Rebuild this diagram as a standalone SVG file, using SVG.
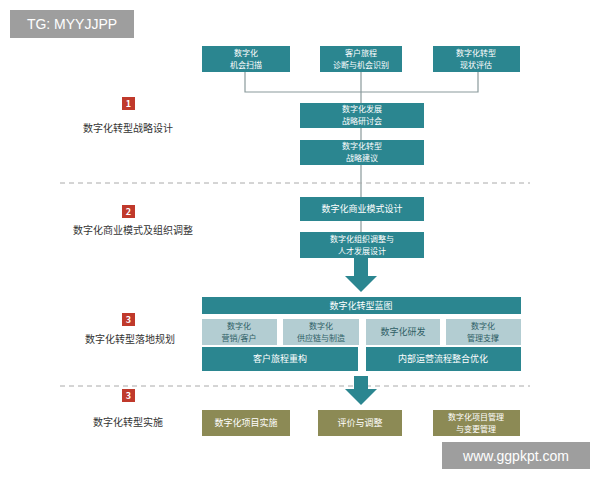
<svg xmlns="http://www.w3.org/2000/svg" width="600" height="480" viewBox="0 0 600 480">
<style>
text{font-family:"Noto Sans CJK SC","Liberation Sans",sans-serif;text-anchor:middle}
.t{fill:#2b8690}.w{fill:#fff;font-size:9px}
.l{fill:#b3cdd2}.d{fill:#2f5f66;font-size:9px}
.s{font-size:8px}
.o{fill:#8c8a55}
.n{fill:#c0392b}.nt{fill:#fff;font-size:9px;font-weight:bold}
.lab{fill:#333;font-size:10px}
.c{stroke:#8a9a9c;stroke-width:1.2;fill:none}
.dash{stroke:#aaa;stroke-width:1;stroke-dasharray:5,4}
</style>
<rect width="600" height="480" fill="#fff"/>
<g id="connectors">
<path class="c" d="M245 72V92H478V72M361 72V103M361 128V140M361 165V197M361 221V232"/>
<line class="dash" x1="60" y1="183" x2="530" y2="183"/>
<line class="dash" x1="60" y1="386" x2="530" y2="386"/>
<path fill="#2b8690" d="M354 258h14v18h9l-16 16-16-16h9z"/>
<path fill="#2b8690" d="M354 376h14v13h9l-16 16-16-16h9z"/>
</g>
<g id="n1"><rect class="t" x="202" y="46" width="88" height="26"/><text class="w s" x="246" y="56">数字化</text><text class="w s" x="246" y="68">机会扫描</text></g>
<g id="n2"><rect class="t" x="320" y="46" width="82" height="26"/><text class="w s" x="361" y="56">客户旅程</text><text class="w s" x="361" y="68">诊断与机会识别</text></g>
<g id="n3"><rect class="t" x="433" y="46" width="87" height="26"/><text class="w s" x="476" y="56">数字化转型</text><text class="w s" x="476" y="68">现状评估</text></g>
<g id="n4"><rect class="t" x="300" y="103" width="124" height="25"/><text class="w s" x="362" y="112">数字化发展</text><text class="w s" x="362" y="124">战略研讨会</text></g>
<g id="n5"><rect class="t" x="300" y="140" width="124" height="25"/><text class="w s" x="362" y="149">数字化转型</text><text class="w s" x="362" y="161">战略建议</text></g>
<g id="n6"><rect class="t" x="300" y="197" width="124" height="24"/><text class="w" x="362" y="212">数字化商业模式设计</text></g>
<g id="n7"><rect class="t" x="300" y="232" width="124" height="26"/><text class="w s" x="362" y="242">数字化组织调整与</text><text class="w s" x="362" y="254">人才发展设计</text></g>
<g id="n8"><rect class="t" x="202" y="297" width="319" height="17"/><text class="w" x="361" y="309">数字化转型蓝图</text></g>
<g id="n9"><rect class="l" x="202" y="319" width="75" height="26"/><text class="d s" x="239" y="329">数字化</text><text class="d s" x="239" y="341">营销/客户</text></g>
<g id="n10"><rect class="l" x="283" y="319" width="76" height="26"/><text class="d s" x="321" y="329">数字化</text><text class="d s" x="321" y="341">供应链与制造</text></g>
<g id="n11"><rect class="l" x="366" y="319" width="74" height="26"/><text class="d" x="403" y="335">数字化研发</text></g>
<g id="n12"><rect class="l" x="446" y="319" width="75" height="26"/><text class="d s" x="483" y="329">数字化</text><text class="d s" x="483" y="341">管理支撑</text></g>
<g id="n13"><rect class="t" x="202" y="347" width="156" height="24"/><text class="w" x="280" y="362">客户旅程重构</text></g>
<g id="n14"><rect class="t" x="366" y="347" width="155" height="24"/><text class="w" x="443" y="362">内部运营流程整合优化</text></g>
<g id="n15"><rect class="o" x="202" y="410" width="88" height="26"/><text class="w" x="246" y="426">数字化项目实施</text></g>
<g id="n16"><rect class="o" x="318" y="410" width="84" height="26"/><text class="w" x="360" y="426">评价与调整</text></g>
<g id="n17"><rect class="o" x="433" y="410" width="87" height="26"/><text class="w s" x="476" y="420">数字化项目管理</text><text class="w s" x="476" y="432">与变更管理</text></g>
<g id="s1"><rect class="n" x="122" y="97" width="13" height="13"/><text class="nt" x="128.5" y="107">1</text><text class="lab" x="128" y="132">数字化转型战略设计</text></g>
<g id="s2"><rect class="n" x="122" y="205" width="13" height="13"/><text class="nt" x="128.5" y="215">2</text><text class="lab" x="133" y="234">数字化商业模式及组织调整</text></g>
<g id="s3"><rect class="n" x="122" y="313" width="13" height="13"/><text class="nt" x="128.5" y="323">3</text><text class="lab" x="130" y="343">数字化转型落地规划</text></g>
<g id="s4"><rect class="n" x="122" y="389" width="13" height="13"/><text class="nt" x="128.5" y="399">3</text><text class="lab" x="128" y="426">数字化转型实施</text></g>
<g id="wm1"><rect x="10" y="10" width="124" height="28" fill="#9e9e9e"/><text x="72" y="29" fill="#fff" font-size="14" style="font-family:'Liberation Sans',sans-serif">TG: MYYJJPP</text></g>
<g id="wm2"><rect x="442" y="442" width="148" height="27" fill="#9e9e9e"/><text x="516" y="461" fill="#fff" font-size="14" style="font-family:'Liberation Sans',sans-serif">www.ggpkpt.com</text></g>
</svg>
